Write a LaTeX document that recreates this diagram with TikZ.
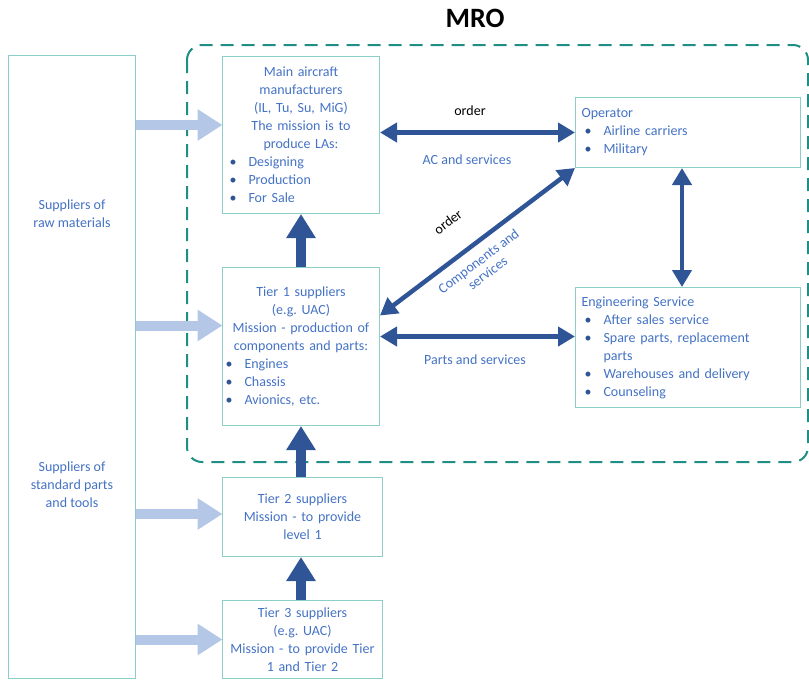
\documentclass[tikz,border=0pt]{standalone}
\usepackage{fontspec}
\setmainfont{Carlito}
\usetikzlibrary{arrows.meta}
\frenchspacing

\definecolor{txt}{HTML}{4472C4}
\definecolor{frame}{HTML}{8CCFC9}
\definecolor{mro}{HTML}{1F8F86}
\definecolor{feed}{HTML}{B4C7E7}
\definecolor{flow}{HTML}{2F5597}

% bulleted line with hanging indent
\newcommand\itm{\par\noindent\hangindent=22pt\hangafter=1\makebox[22pt][l]{\hspace{3pt}{\color{flow}\textbullet}}}

\tikzset{
  box/.style={draw=frame, line width=1pt, text=txt, anchor=north west,
    font=\fontsize{14}{18}\selectfont, inner ysep=2pt},
  lbl/.style={font=\fontsize{14}{15}\selectfont, text=txt, align=center},
  feedarrow/.style={draw=feed, line width=10pt,
    -{Triangle[length=25pt,width=30pt]}, shorten >=-0.5pt},
  uparrow/.style={draw=flow, line width=10pt,
    -{Triangle[length=24pt,width=28pt]}},
  twoway/.style={draw=flow, line width=4.5pt,
    {Triangle[length=17pt,width=19pt]}-{Triangle[length=17pt,width=19pt]}},
}

\begin{document}
\begin{tikzpicture}[x=1pt,y=-1pt]
\useasboundingbox (0,0) rectangle (809,681);

% MRO boundary
\draw[mro, line width=2pt, dash pattern=on 13pt off 8pt, rounded corners=15pt]
  (187,45) rectangle (808,462);
\node[font=\fontsize{28}{30}\selectfont\bfseries] (title) at (475,18) {MRO};

% boxes
\node[box, minimum width=127, minimum height=623, text width=119, inner xsep=4pt] (src) at (8,55) {};
\node[lbl, font=\fontsize{14}{18}\selectfont] (raw) at (72,214) {Suppliers of\\raw materials};
\node[lbl, font=\fontsize{14}{18}\selectfont] (std) at (72,485) {Suppliers of\\standard parts\\and tools};

\node[box, minimum width=157, minimum height=157, text width=149, inner xsep=4pt] (main) at (222,56)
 {\centering Main aircraft\\ manufacturers\\ (IL, Tu, Su, MiG)\\ The mission is to\\ produce LAs:\par
  \raggedright\itm Designing\itm Production\itm For Sale\par};

\node[box, minimum width=157, minimum height=158, text width=157, inner xsep=0pt] (t1) at (222,267)
 {\centering Tier 1 suppliers\\ (e.g. UAC)\\ Mission - production of\\ components and parts:\par
  \raggedright\itm Engines\itm Chassis\itm Avionics, etc.\par};

\node[box, minimum width=160, minimum height=79, text width=156, inner xsep=2pt] (t2) at (222,477)
 {\centering Tier 2 suppliers\\ Mission - to provide\\ level 1\par};

\node[box, minimum width=160, minimum height=78, text width=160, inner xsep=0pt] (t3) at (222,600)
 {\centering Tier 3 suppliers\\ (e.g. UAC)\\ Mission - to provide Tier\\ 1 and Tier 2\par};

\node[box, minimum width=225, minimum height=70, text width=213, inner xsep=6pt] (op) at (575,97)
 {\raggedright Operator\itm Airline carriers\itm Military\par};

\node[box, minimum width=225, minimum height=120, text width=213, inner xsep=6pt] (eng) at (575,287)
 {\raggedright Engineering Service\itm After sales service\itm Spare parts, replacement\newline parts\itm Warehouses and delivery\itm Counseling\par};

% supply inputs
\draw[feedarrow] ([yshift=10pt]main.west -| src.east) -- ([yshift=10pt]main.west);
\draw[feedarrow] ([yshift=21pt]t1.west -| src.east) -- ([yshift=21pt]t1.west);
\draw[feedarrow] ([yshift=3pt]t2.west -| src.east) -- ([yshift=3pt]t2.west);
\draw[feedarrow] (t3.west -| src.east) -- (t3.west);

% supply chain upward
\draw[uparrow] (t1.north) -- (main.south);
\draw[uparrow] (t1.south |- t2.north) -- (t1.south);
\draw[uparrow] (t1.south |- t3.north) -- (t1.south |- t2.south);

% exchanges
\draw[twoway] (op.west -| main.east) -- (op.west);
\draw[twoway] ([yshift=31pt]t1.east) -- (op.south west);
\draw[twoway] ([yshift=10pt]t1.east) -- ([yshift=10pt]t1.east -| eng.west);
\draw[twoway] ([xshift=-6pt]op.south) -- ([xshift=-6pt]op.south |- eng.north);

% labels
\node[lbl, text=black] (o1) at (470,111) {order};
\node[lbl] (ac) at (467,160) {AC and services};
\node[lbl] (ps) at (475,360) {Parts and services};
\node[lbl, text=black, rotate=37] (o2) at (448,222) {order};
\node[lbl, rotate=37] (cs) at (483,267) {Components and\\services};
\end{tikzpicture}
\end{document}
